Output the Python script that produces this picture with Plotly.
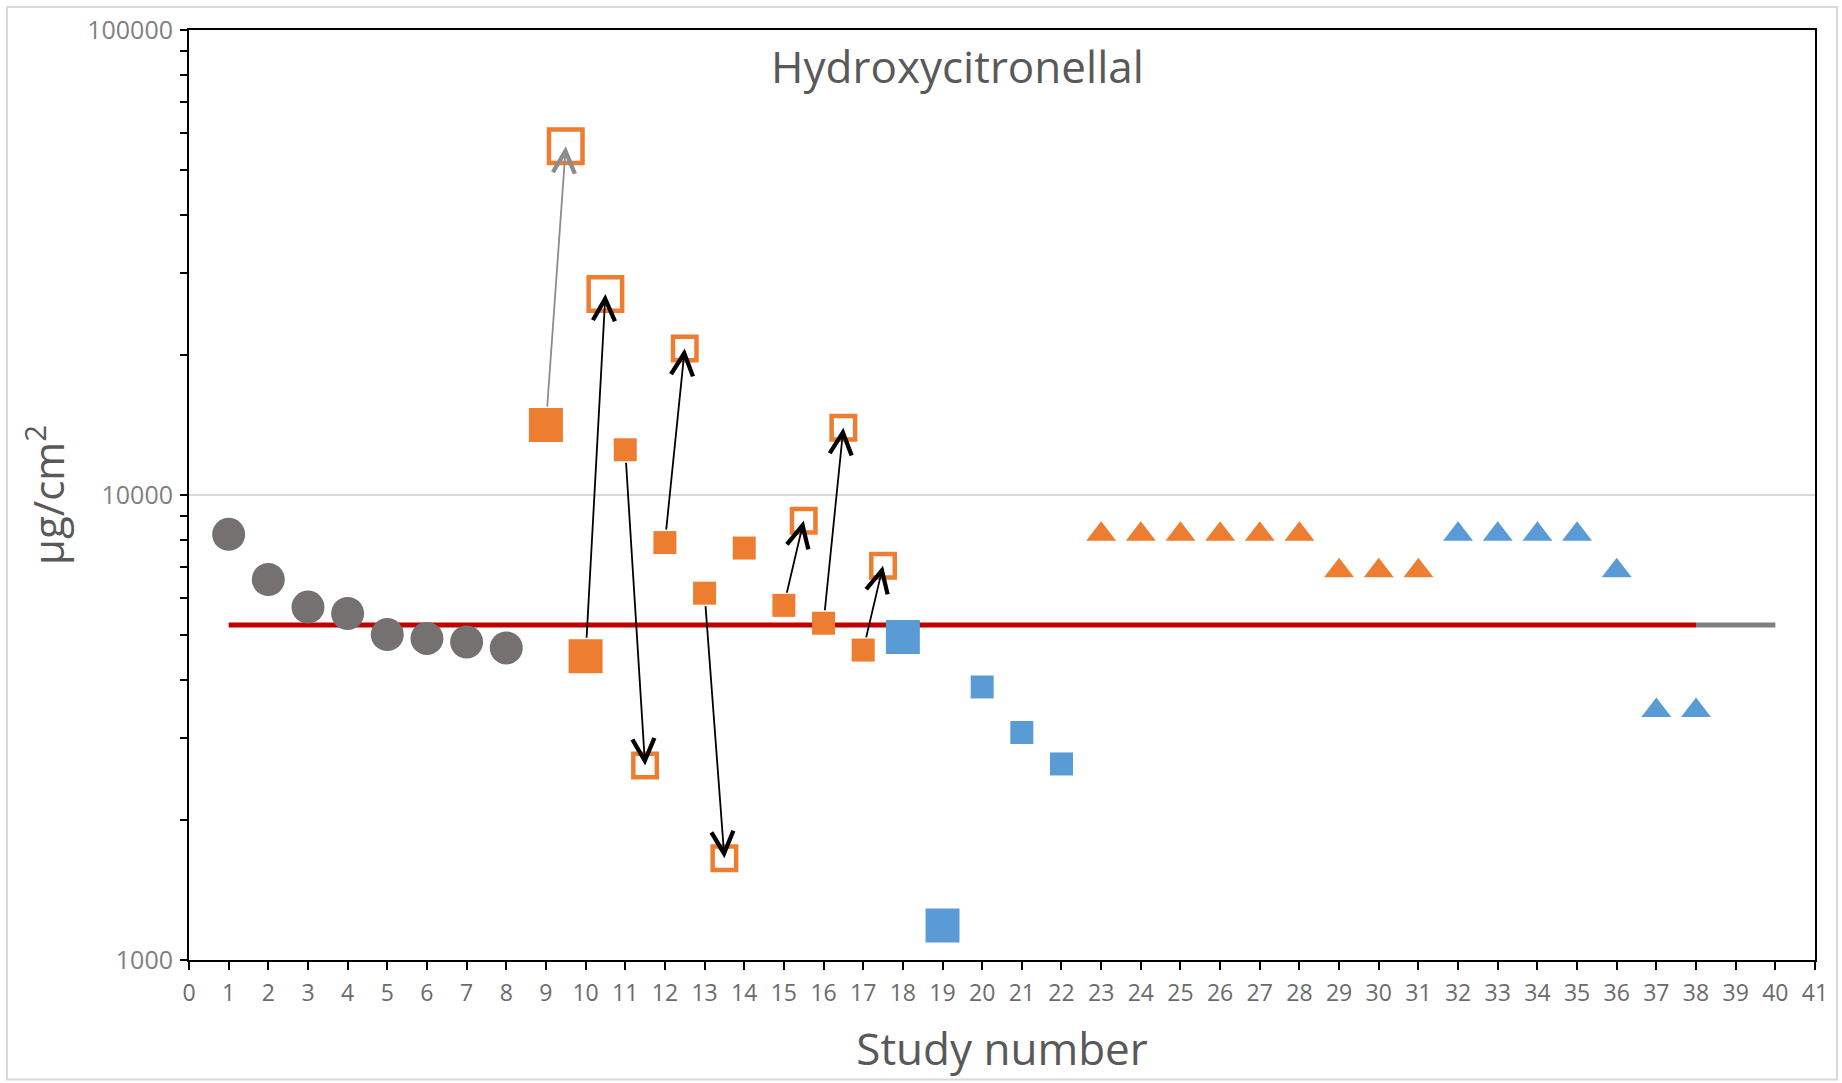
import numpy as np
import plotly.graph_objects as go

# ---------------- data ----------------
grey_x = [1, 2, 3, 4, 5, 6, 7, 8]
grey_y = [8230, 6580, 5740, 5560, 5010, 4915, 4830, 4690]

orange_big_x = [9, 10]
orange_big_y = [14150, 4500]
orange_small_x = [11, 12, 13, 14, 15, 16, 17]
orange_small_y = [12510, 7900, 6150, 7690, 5790, 5300, 4640]

open_big_x = [9.5, 10.5]
open_big_y = [56230, 27060]
open_small_x = [11.5, 12.5, 13.5, 15.5, 16.5, 17.5]
open_small_y = [2620, 20650, 1655, 8800, 13950, 7045]

blue_big_x = [18, 19]
blue_big_y = [4950, 1187]
blue_small_x = [20, 21, 22]
blue_small_y = [3865, 3085, 2640]

orange_tri_x = [23, 24, 25, 26, 27, 28, 29, 30, 31]
orange_tri_y = [8230, 8230, 8230, 8230, 8230, 8230, 6870, 6870, 6870]
blue_tri_x = [32, 33, 34, 35, 36, 37, 38]
blue_tri_y = [8230, 8230, 8230, 8230, 6870, 3440, 3440]

ref_value = 5255
ref_red_x = [1, 38]
ref_grey_x = [38, 40]

arrow_from = [9, 10, 11, 12, 13, 15, 16, 17]
arrow_to = [9.5, 10.5, 11.5, 12.5, 13.5, 15.5, 16.5, 17.5]

y_tickvals = [1000, 10000, 100000]
y_ticktext = ["1000", "10000", "100000"]
x_tickvals = list(range(0, 42))

# ---------------- styling ----------------
ORANGE = "#ED7D31"
BLUE = "#5B9BD5"
GREY = "#767171"
RED = "#C00000"
FONT = "Open Sans"

fig = go.Figure()

# reference line
fig.add_trace(go.Scatter(x=ref_red_x, y=[ref_value, ref_value], mode="lines",
                         line=dict(color=RED, width=5), hoverinfo="skip", name="reference"))
fig.add_trace(go.Scatter(x=ref_grey_x, y=[ref_value, ref_value], mode="lines",
                         line=dict(color="#7F7F7F", width=5), hoverinfo="skip", name="reference ext"))

fig.add_trace(go.Scatter(x=grey_x, y=grey_y, mode="markers", name="grey",
                         marker=dict(symbol="circle", size=33, color=GREY)))

fig.add_trace(go.Scatter(x=orange_big_x, y=orange_big_y, mode="markers", name="orange big",
                         marker=dict(symbol="square", size=34, color=ORANGE)))
fig.add_trace(go.Scatter(x=orange_small_x, y=orange_small_y, mode="markers", name="orange small",
                         marker=dict(symbol="square", size=23, color=ORANGE)))
fig.add_trace(go.Scatter(x=open_big_x, y=open_big_y, mode="markers", name="open big",
                         marker=dict(symbol="square", size=33.5, color="white",
                                     line=dict(color=ORANGE, width=4.5))))
fig.add_trace(go.Scatter(x=open_small_x, y=open_small_y, mode="markers", name="open small",
                         marker=dict(symbol="square", size=23.5, color="white",
                                     line=dict(color=ORANGE, width=4.5))))

fig.add_trace(go.Scatter(x=blue_big_x, y=blue_big_y, mode="markers", name="blue big",
                         marker=dict(symbol="square", size=34, color=BLUE)))
fig.add_trace(go.Scatter(x=blue_small_x, y=blue_small_y, mode="markers", name="blue small",
                         marker=dict(symbol="square", size=23, color=BLUE)))

fig.add_trace(go.Scatter(x=orange_tri_x, y=orange_tri_y, mode="markers", name="orange tri",
                         marker=dict(symbol="triangle-up", size=26, color=ORANGE)))
fig.add_trace(go.Scatter(x=blue_tri_x, y=blue_tri_y, mode="markers", name="blue tri",
                         marker=dict(symbol="triangle-up", size=26, color=BLUE)))

# arrows
lookup = {}
for xs, ys in [(orange_big_x, orange_big_y), (orange_small_x, orange_small_y),
               (open_big_x, open_big_y), (open_small_x, open_small_y)]:
    for xv, yv in zip(xs, ys):
        lookup[xv] = yv

annotations = []
for i, (a, b) in enumerate(zip(arrow_from, arrow_to)):
    big = a in orange_big_x
    annotations.append(dict(
        x=b, y=np.log10(lookup[b]), ax=a, ay=np.log10(lookup[a]),
        xref="x", yref="y", axref="x", ayref="y", text="",
        showarrow=True, arrowhead=5, arrowsize=2.4, arrowwidth=1.8,
        arrowcolor="#8C8C8C" if i == 0 else "black",
        standoff=0, startstandoff=17 if big else 11.5,
    ))

fig.update_layout(
    width=1842, height=1083,
    margin=dict(l=189, r=27, t=27, b=123),
    paper_bgcolor="white", plot_bgcolor="white",
    showlegend=False,
    font=dict(family=FONT, color="#595959"),
    title=dict(text="Hydroxycitronellal", x=0.4726, xref="paper", xanchor="center",
               y=1 - 68 / 1083, yref="container", yanchor="middle",
               font=dict(family=FONT, size=44, color="#595959")),
    annotations=annotations,
    shapes=[dict(type="rect", xref="paper", yref="paper",
                 x0=(7 - 189) / 1626, x1=(1837 - 189) / 1626,
                 y0=(960 - 1080) / 933, y1=(960 - 4) / 933,
                 line=dict(color="#D9D9D9", width=2), layer="below")],
)

fig.update_xaxes(
    range=[0, 41], tickvals=x_tickvals, ticktext=[str(v) for v in x_tickvals],
    ticks="outside", ticklen=8, tickwidth=2, tickcolor="black",
    showline=True, linecolor="black", linewidth=2, mirror=True,
    showgrid=False, zeroline=False,
    tickfont=dict(family=FONT, size=23, color="#6B6B6B"),
    ticklabelstandoff=3,
    title=dict(text="Study number", standoff=28,
               font=dict(family=FONT, size=44, color="#595959")),
)

minor_vals = [m * d for d in (1000, 10000) for m in range(2, 10)]
fig.update_yaxes(
    type="log", range=[3, 5], tickvals=y_tickvals, ticktext=y_ticktext,
    ticks="outside", ticklen=7, tickwidth=2, tickcolor="black",
    minor=dict(tickvals=minor_vals, ticks="outside", ticklen=7, tickwidth=2,
               tickcolor="black", showgrid=False),
    showline=True, linecolor="black", linewidth=2, mirror=True,
    showgrid=True, gridcolor="#D9D9D9", gridwidth=2, zeroline=False,
    tickfont=dict(family=FONT, size=25, color="#7F7F7F"),
    ticklabelstandoff=2,
    title=dict(text="µg/cm<sup>2</sup>", standoff=10,
               font=dict(family=FONT, size=42, color="#595959")),
)

fig.write_html("out.html")
